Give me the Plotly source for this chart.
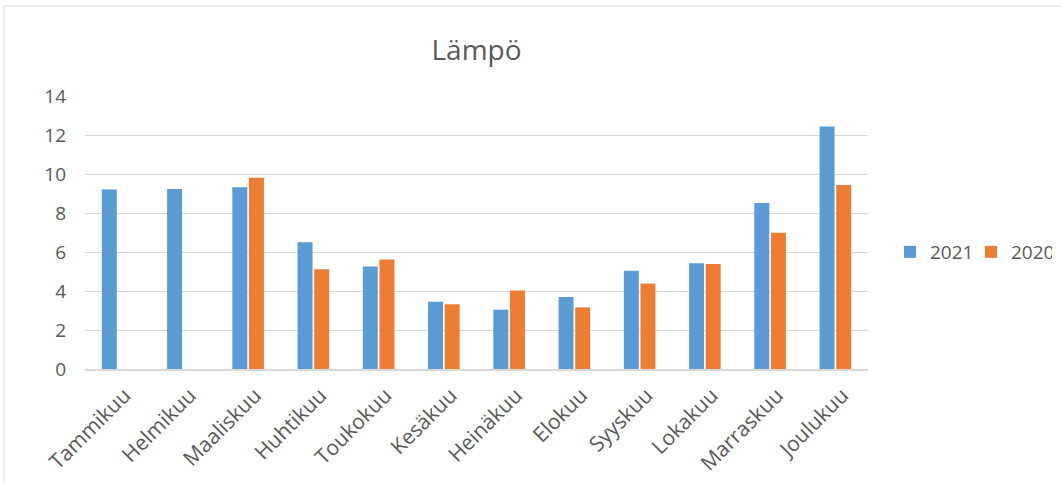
import plotly.graph_objects as go

months = ["Tammikuu", "Helmikuu", "Maaliskuu", "Huhtikuu", "Toukokuu", "Kesäkuu",
          "Heinäkuu", "Elokuu", "Syyskuu", "Lokakuu", "Marraskuu", "Joulukuu"]
temp_2021 = [9.21, 9.23, 9.32, 6.50, 5.26, 3.45, 3.04, 3.69, 5.04, 5.42, 8.51, 12.44]
temp_2020 = [None, None, 9.81, 5.11, 5.62, 3.32, 4.03, 3.16, 4.38, 5.38, 6.99, 9.44]
y_ticks = [0, 2, 4, 6, 8, 10, 12, 14]

W, H = 1061, 483
L, R, T, B = 85, 193, 96, 114
pw, ph = W - L - R, H - T - B

FONT = "Open Sans, Noto Sans, sans-serif"
GREY = "#595959"

fig = go.Figure()
fig.add_trace(go.Bar(name="2021", x=months, y=temp_2021, marker_color="#5B9BD5",
                     marker_line_width=0))
fig.add_trace(go.Bar(name="2020", x=months, y=temp_2020, marker_color="#ED7D31",
                     marker_line_width=0))

fig.update_layout(
    width=W, height=H,
    margin=dict(l=L, r=R, t=T, b=B, autoexpand=False),
    paper_bgcolor="white", plot_bgcolor="white",
    font=dict(family=FONT, color=GREY, size=19),
    barmode="group", bargap=0.49, bargroupgap=0.1,
    title=dict(text="Lämpö", x=(L + pw / 2) / W, xanchor="center",
               y=(H - 50) / H, yanchor="middle", yref="container",
               font=dict(size=28, color=GREY, family=FONT)),
    legend=dict(orientation="h", x=(890 - L) / pw, xanchor="left",
                y=(369 - 252) / ph, yanchor="middle", entrywidth=36,
                font=dict(size=19, color=GREY), bgcolor="rgba(0,0,0,0)"),
    showlegend=True,
)
fig.update_yaxes(range=[0, 14], tickvals=y_ticks, showgrid=True,
                 gridcolor="#d9d9d9", gridwidth=1, zeroline=False,
                 showline=False, ticks="", ticklabelstandoff=18,
                 tickfont=dict(size=19, color=GREY))
fig.update_xaxes(showline=True, linecolor="#d9d9d9", linewidth=1.5,
                 tickangle=-45, ticks="", ticklabelstandoff=4, ticklabelshift=7,
                 tickfont=dict(size=21, color=GREY))

# chart-area border
fig.add_shape(type="rect", xref="paper", yref="paper",
              x0=(4 - L) / pw, x1=(W + 5 - L) / pw,
              y0=(H - B - (H + 5)) / ph, y1=(H - B - 6) / ph,
              line=dict(color="#d9d9d9", width=1), fillcolor="rgba(0,0,0,0)",
              layer="below")

fig.write_html("out.html", config={"displayModeBar": False},
               post_script="document.body.style.margin='0';document.body.style.padding='0';")
